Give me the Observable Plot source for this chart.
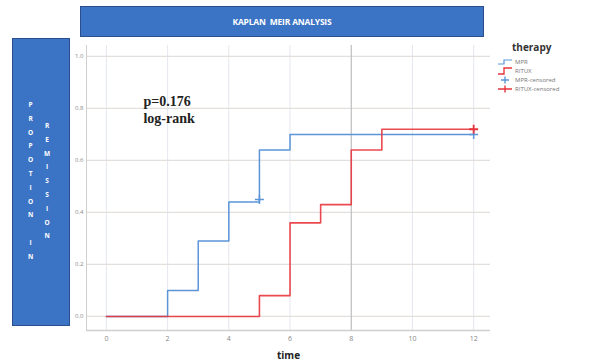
<!DOCTYPE html>
<html>
<head>
<meta charset="utf-8">
<script src="https://cdn.jsdelivr.net/npm/d3@7"></script>
<script src="https://cdn.jsdelivr.net/npm/@observablehq/plot@0.6"></script>
<style>
  html, body { margin: 0; padding: 0; background: #fff; }
  #wrap { position: relative; width: 590px; height: 364px; overflow: hidden; font-family: "Liberation Sans", Arial, sans-serif; }
  #chart { position: absolute; left: 0; top: 0; }
  .box { position: absolute; background: #3b73c5; border: 1px solid #2a4f8c; box-sizing: border-box; color: #fff; }
  #title { left: 80px; top: 6px; width: 404px; height: 31px; display: flex; align-items: center; justify-content: center; font-family: "Open Sans", sans-serif; font-weight: bold; font-size: 8.5px; letter-spacing: -0.2px; white-space: pre; }
  #ylab { left: 12px; top: 38px; width: 58px; height: 288px; }
  .col { position: absolute; display: flex; flex-direction: column; align-items: center; font-family: "Open Sans", sans-serif; font-weight: bold; font-size: 6.5px; }
  .col span { display: block; height: 13.8px; line-height: 13.8px; }
  #legend { position: absolute; left: 498px; top: 40px; font-family: "Open Sans", sans-serif; }
  #legend .ttl { font-weight: bold; font-size: 10px; color: #333; margin-left: 14px; margin-bottom: 3px; }
  #legend .row { display: flex; align-items: center; height: 9px; font-size: 6px; color: #777; }
  #legend svg { margin-right: 3px; }
  g[aria-label="x-axis label"] text { font-weight: bold; font-size: 10px; fill: #222; }
</style>
</head>
<body>
<div id="wrap">
  <div id="chart"></div>
  <div class="box" id="title">KAPLAN  MEIR ANALYSIS</div>
  <div class="box" id="ylab">
    <div class="col" id="c1" style="left:15px; top:59px;"></div>
    <div class="col" id="c2" style="left:31px; top:80px;"></div>
  </div>
  <div id="legend"></div>
</div>
<script>
// ---- data ----
const mprTime = [0, 2, 3, 4, 5, 6, 12];
const mprProp = [0, 0.10, 0.29, 0.44, 0.64, 0.70, 0.70];
const rituxTime = [0, 5, 6, 7, 8, 9, 12];
const rituxProp = [0, 0.08, 0.36, 0.43, 0.64, 0.72, 0.72];
const mprCensTime = [5, 12];
const mprCensProp = [0.45, 0.70];
const rituxCensTime = [12];
const rituxCensProp = [0.72];
const xTicks = [0, 2, 4, 6, 8, 10, 12];
const yTicks = [0, 0.2, 0.4, 0.6, 0.8, 1.0];
const seriesNames = ["MPR", "RITUX", "MPR-censored", "RITUX-censored"];
const colors = { MPR: "#5b95d8", RITUX: "#e8353d" };
const titleText = "KAPLAN  MEIR ANALYSIS";
const yLabelCol1 = "PROPOTION IN";
const yLabelCol2 = "REMISSION";
const pText = "p=0.176\nlog-rank";

const mpr = mprTime.map((t, i) => ({ t, p: mprProp[i] }));
const ritux = rituxTime.map((t, i) => ({ t, p: rituxProp[i] }));
const mprC = mprCensTime.map((t, i) => ({ t, p: mprCensProp[i] }));
const rituxC = rituxCensTime.map((t, i) => ({ t, p: rituxCensProp[i] }));

const xDomain = [-0.65, 12.55];
const yDomain = [-0.054, 1.042];

const chart = Plot.plot({
  width: 590,
  height: 364,
  marginLeft: 86,
  marginRight: 100,
  marginTop: 45,
  marginBottom: 34,
  style: { fontFamily: "'Open Sans', sans-serif", background: "transparent" },
  x: { domain: xDomain },
  y: { domain: yDomain },
  marks: [
    Plot.gridX(xTicks, { stroke: "#e4e7ee", strokeOpacity: 1 }),
    Plot.gridY(yTicks, { stroke: "#e2dfdc", strokeOpacity: 1, strokeWidth: 1.2 }),
    Plot.gridX([8], { stroke: "#b9b9b9", strokeOpacity: 1 }),
    Plot.ruleX([xDomain[0]], { stroke: "#cfcfcf" }),
    Plot.ruleY([yDomain[0]], { stroke: "#cfcfcf", strokeWidth: 1.3 }),
    Plot.axisX(xTicks, { tickSize: 0, tickPadding: 6, fontSize: 7, fill: "#888", label: "time", labelAnchor: "center", labelArrow: "none", labelOffset: 28 }),
    Plot.axisY(yTicks, { tickSize: 0, tickPadding: 3, fontSize: 6, fill: "#888", label: null, tickFormat: d3.format(".1f") }),
    Plot.line(mpr, { x: "t", y: "p", curve: "step-after", stroke: colors.MPR, strokeWidth: 1.5 }),
    Plot.line(ritux, { x: "t", y: "p", curve: "step-after", stroke: colors.RITUX, strokeWidth: 1.6, strokeOpacity: 0.9 }),
    Plot.dot(mprC, { x: "t", y: "p", symbol: "plus", stroke: colors.MPR, r: 3, strokeWidth: 1.5 }),
    Plot.dot(rituxC, { x: "t", y: "p", symbol: "plus", stroke: colors.RITUX, r: 3, strokeWidth: 1.8 }),
    Plot.text([pText], { x: 1.21, y: 0.855, text: d => d, textAnchor: "start", lineAnchor: "top", fontFamily: "'Liberation Serif', serif", fontSize: 14, fontWeight: "bold", fill: "#222", lineHeight: 1.2 })
  ]
});
document.getElementById("chart").appendChild(chart);

document.getElementById("title").textContent = titleText;

function fillCol(id, str) {
  const el = document.getElementById(id);
  for (const ch of str) {
    const s = document.createElement("span");
    s.textContent = ch === " " ? "\u00a0" : ch;
    el.appendChild(s);
  }
}
fillCol("c1", yLabelCol1);
fillCol("c2", yLabelCol2);

// legend
const lg = document.getElementById("legend");
lg.innerHTML = '<div class="ttl">therapy</div>';
const icons = {
  "MPR": `<svg width="14" height="8"><path d="M0,6 H6 V2 H14" fill="none" stroke="${colors.MPR}" stroke-width="1.2"/></svg>`,
  "RITUX": `<svg width="14" height="8"><path d="M0,7 H6 V1 H14" fill="none" stroke="${colors.RITUX}" stroke-width="1.4"/></svg>`,
  "MPR-censored": `<svg width="14" height="8"><path d="M3,4 H11 M7,0.5 V7.5" fill="none" stroke="${colors.MPR}" stroke-width="1.4"/></svg>`,
  "RITUX-censored": `<svg width="14" height="8"><path d="M0,4 H14 M7,0.5 V7.5" fill="none" stroke="${colors.RITUX}" stroke-width="1.4"/></svg>`
};
for (const name of seriesNames) {
  const row = document.createElement("div");
  row.className = "row";
  row.innerHTML = icons[name] + `<span>${name}</span>`;
  lg.appendChild(row);
}
</script>
</body>
</html>
